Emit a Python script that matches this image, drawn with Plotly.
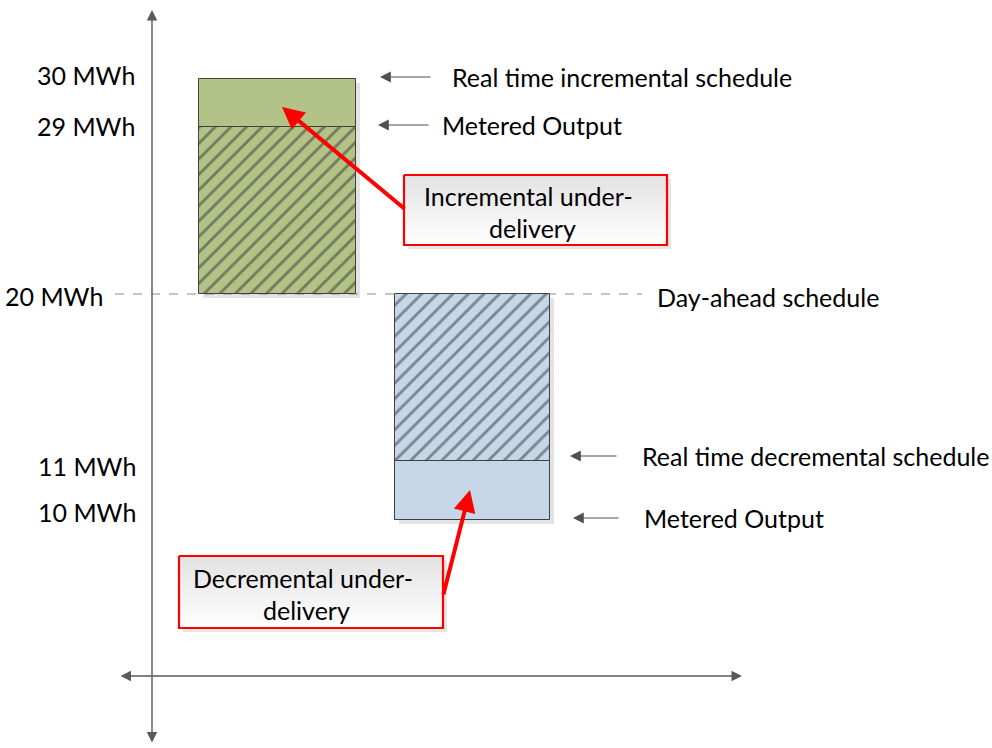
import plotly.graph_objects as go

# energy levels in MWh (schematic, not to scale)
day_ahead = 20
products = ["Incremental", "Decremental"]
rt_schedule = [30, 11]
metered = [29, 10]
level_labels = ["30 MWh", "29 MWh", "20 MWh", "11 MWh", "10 MWh"]
level_values = [30, 29, 20, 11, 10]

# layout: where each level sits on the (schematic) vertical scale
level_y = {30: 79, 29: 127, 20: 294, 11: 461, 10: 520}
bar_x = {"Incremental": (199, 356), "Decremental": (395, 550)}
bar_colors = {"Incremental": "#b3c286", "Decremental": "#c5d7e8"}
FONT = "Lato"
FS = 25
EDGE = "#404040"

fig = go.Figure()

# drop shadows for the boxes
for i, p in enumerate(products):
    x0, x1 = bar_x[p]
    ys = [level_y[rt_schedule[i]], level_y[metered[i]], level_y[day_ahead]]
    fig.add_shape(type="rect", x0=x0 + 4, x1=x1 + 4, y0=min(ys) + 4, y1=max(ys) + 4,
                  fillcolor="#e3e3e3", line_width=0, layer="below")

# day-ahead dashed line
fig.add_shape(type="line", x0=115, x1=642, y0=level_y[day_ahead], y1=level_y[day_ahead],
              line=dict(color="#8c8c8c", width=1.2, dash="dash"), layer="below")

for i, p in enumerate(products):
    x0, x1 = bar_x[p]
    xc, w = (x0 + x1) / 2, x1 - x0
    base = level_y[day_ahead]
    # delivered part (hatched): from day-ahead to the nearer of schedule / metered
    if p == "Incremental":
        delivered, lo, hi = metered[i], level_y[metered[i]], level_y[rt_schedule[i]]
    else:
        delivered, lo, hi = rt_schedule[i], level_y[rt_schedule[i]], level_y[metered[i]]
    fig.add_trace(go.Bar(
        x=[xc], y=[level_y[delivered] - base], base=[base], width=[w],
        marker=dict(color=bar_colors[p], line=dict(color=EDGE, width=1),
                    pattern=dict(shape="/", fgcolor="#333333", size=11, solidity=0.26)),
        hoverinfo="skip", showlegend=False))
    # under-delivery part (solid)
    fig.add_trace(go.Bar(
        x=[xc], y=[hi - lo], base=[lo], width=[w],
        marker=dict(color=bar_colors[p], line=dict(color=EDGE, width=1)),
        hoverinfo="skip", showlegend=False))

# callout boxes with gradient fill
callouts = [
    (404, 667, 175, 245, "Incremental under-", "delivery", 528, 532),
    (179, 443, 556, 628, "Decremental under-", "delivery", 303, 306),
]
for x0, x1, y0, y1, l1, l2, c1, c2 in callouts:
    fig.add_shape(type="rect", x0=x0 + 4, x1=x1 + 4, y0=y0 + 4, y1=y1 + 4,
                  fillcolor="#e6e6e6", line_width=0, layer="below")
    fig.add_trace(go.Scatter(
        x=[x0, x1, x1, x0, x0], y=[y0, y0, y1, y1, y0], mode="lines", fill="toself",
        fillgradient=dict(type="vertical", colorscale=[[0, "#ffffff"], [1, "#e2e2e2"]]),
        line=dict(color="#ff0000", width=2.2), hoverinfo="skip", showlegend=False))
    fig.add_annotation(x=c1, y=(y0 + y1) / 2 - 14, text=l1, showarrow=False,
                       font=dict(family=FONT, size=FS, color="black"))
    fig.add_annotation(x=c2, y=(y0 + y1) / 2 + 18, text=l2, showarrow=False,
                       font=dict(family=FONT, size=FS, color="black"))

# red pointer arrows from callouts to the under-delivery areas
fig.add_annotation(x=282, y=107, ax=406, ay=210, xref="x", yref="y", axref="x", ayref="y",
                   text="", showarrow=True, arrowhead=2, arrowsize=1.1, arrowwidth=4,
                   arrowcolor="#ff0000")
fig.add_annotation(x=470, y=490, ax=443, ay=596, xref="x", yref="y", axref="x", ayref="y",
                   text="", showarrow=True, arrowhead=2, arrowsize=1.1, arrowwidth=4,
                   arrowcolor="#ff0000")

# axes of the diagram
fig.add_annotation(x=152, y=10, ax=152, ay=744, axref="x", ayref="y", text="", showarrow=True,
                   arrowside="end+start", arrowhead=2, startarrowhead=2, arrowsize=1.5,
                   startarrowsize=1.5, arrowwidth=1.4, arrowcolor="#595959")
fig.add_annotation(x=742, y=676, ax=119, ay=676, axref="x", ayref="y", text="", showarrow=True,
                   arrowside="end+start", arrowhead=2, startarrowhead=2, arrowsize=1.5,
                   startarrowsize=1.5, arrowwidth=1.4, arrowcolor="#595959")

# level labels on the left
label_pos = {30: (137, 75), 29: (137, 126), 20: (105, 296), 11: (138, 466), 10: (138, 512)}
for v, t in zip(level_values, level_labels):
    lx, ly = label_pos[v]
    fig.add_annotation(x=lx, y=ly, text=t, showarrow=False, xanchor="right",
                       font=dict(family=FONT, size=FS, color="black"))

# right-hand descriptions with small pointer arrows
notes = [
    ("Real time incremental schedule", rt_schedule[0], 380, 432, 450, -2),
    ("Metered Output", metered[0], 378, 430, 440, -2),
    ("Day-ahead schedule", day_ahead, None, None, 655, 3),
    ("Real time decremental schedule", rt_schedule[1], 570, 618, 640, -5),
    ("Metered Output", metered[1], 573, 620, 642, -2),
]
for text, lvl, hx, tx, txt_x, dy in notes:
    yy = level_y[lvl] + dy
    if hx is not None:
        fig.add_annotation(x=hx, y=yy, ax=tx, ay=yy, axref="x", ayref="y", text="",
                           showarrow=True, arrowhead=2, arrowsize=1.8, arrowwidth=1.2,
                           arrowcolor="#505050")
    fig.add_annotation(x=txt_x, y=yy, text=text, showarrow=False, xanchor="left",
                       font=dict(family=FONT, size=FS, color="black"))

fig.update_layout(
    width=992, height=748,
    margin=dict(l=0, r=0, t=0, b=0),
    plot_bgcolor="white", paper_bgcolor="white",
    barmode="overlay", bargap=0,
    xaxis=dict(range=[0, 992], visible=False, fixedrange=True),
    yaxis=dict(range=[748, 0], visible=False, fixedrange=True),
)

fig.write_html("out.html", config={"displayModeBar": False},
               post_script="document.body.style.margin='0';document.body.style.overflow='hidden';")
